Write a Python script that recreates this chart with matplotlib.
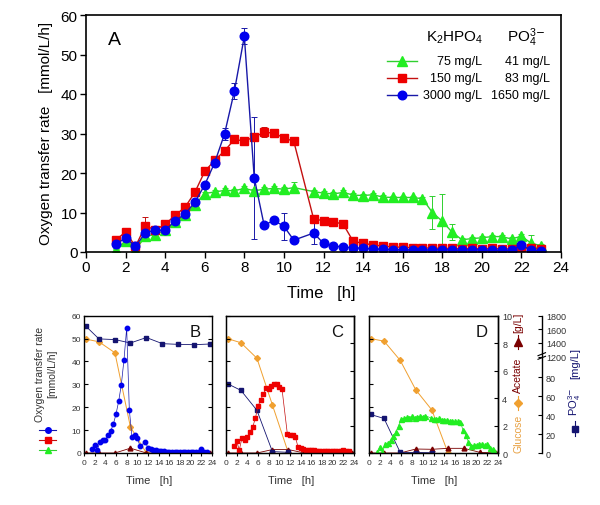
import numpy as np
import matplotlib
matplotlib.use('Agg')
import matplotlib.pyplot as plt
from matplotlib.lines import Line2D

plt.rcParams['font.family'] = ['Liberation Sans', 'DejaVu Sans']
plt.rcParams['mathtext.fontset'] = 'custom'
plt.rcParams['mathtext.rm'] = 'Liberation Sans'
plt.rcParams['mathtext.it'] = 'Liberation Sans:italic'
plt.rcParams['mathtext.bf'] = 'Liberation Sans:bold'

# ---------------- data ----------------
# OTR sampling times [h]
t_otr = [1.5, 2, 2.5, 3, 3.5, 4, 4.5, 5, 5.5, 6, 6.5, 7, 7.5, 8, 8.5, 9, 9.5, 10, 10.5,
         11.5, 12, 12.5, 13, 13.5, 14, 14.5, 15, 15.5, 16, 16.5, 17, 17.5, 18, 18.5,
         19, 19.5, 20, 20.5, 21, 21.5, 22, 22.5, 23]
# OTR [mmol/L/h]
otr_3000 = [1.9, 3.6, 1.4, 4.9, 5.5, 5.5, 7.9, 9.6, 12.6, 17.0, 22.6, 29.9, 40.8, 54.6, 18.8, 6.8, 8.0, 6.5, 3.0,
            4.8, 2.2, 1.6, 1.2, 1.1, 0.9, 0.8, 0.7, 0.6, 0.6, 0.5, 0.5, 0.5, 0.6, 0.5,
            0.4, 0.6, 0.5, 0.4, 0.4, 0.4, 1.8, 0.4, 0.3]
otr_150 = [3.0, 5.1, 1.4, 6.6, 5.6, 7.0, 9.3, 11.3, 15.1, 20.4, 23.2, 25.6, 28.5, 28.1, 29.1, 30.3, 30.1, 28.9, 28.0,
           8.4, 7.9, 7.7, 7.0, 2.7, 2.2, 1.8, 1.5, 1.3, 1.2, 1.1, 1.0, 1.0, 0.9, 0.9,
           0.8, 0.9, 0.8, 0.9, 0.8, 0.8, 1.2, 0.9, 0.7]
otr_75 = [0.5, 2.8, 0.5, 4.0, 4.4, 5.5, 7.5, 9.3, 12.0, 14.8, 15.2, 15.6, 15.5, 16.1, 15.5, 15.9, 16.1, 15.9, 16.3,
          15.3, 14.9, 14.7, 15.1, 14.4, 14.3, 14.5, 13.9, 13.8, 13.8, 13.8, 13.5, 10.0, 7.8, 5.0,
          3.1, 3.4, 3.6, 3.9, 3.9, 3.3, 4.0, 2.2, 1.6]
# error bars (standard deviation)
err_3000 = [0.8, 1.0, 0.5, 0.5, 0.5, 0.5, 0.5, 0.5, 0.5, 0.5, 0.5, 1.5, 2.0, 2.0, 15.5, 0.5, 0.5, 3.5, 0.5,
            2.8, 0.8, 0.3, 0.3, 0.3, 0.3, 0.3, 0.3, 0.3, 0.3, 0.3, 0.3, 0.3, 0.3, 0.3,
            0.3, 0.3, 0.3, 0.3, 0.3, 0.3, 0.8, 0.3, 0.3]
err_150 = [0.8, 1.0, 0.5, 2.2, 0.5, 0.8, 0.5, 0.5, 0.5, 0.5, 0.8, 0.5, 1.0, 0.5, 0.5, 1.3, 0.8, 1.0, 0.5,
           0.8, 1.0, 0.5, 0.5, 0.5, 0.3, 0.3, 0.3, 0.3, 0.3, 0.3, 0.3, 0.3, 0.3, 0.3,
           0.3, 0.3, 0.3, 0.3, 0.3, 0.3, 0.6, 0.3, 0.3]
err_75 = [0.3, 0.5, 0.3, 0.5, 0.5, 0.5, 0.5, 0.5, 0.5, 0.5, 0.5, 0.5, 0.5, 0.5, 0.5, 0.5, 0.5, 0.5, 1.3,
          0.5, 0.5, 0.5, 0.5, 0.5, 0.5, 0.5, 0.5, 0.5, 0.5, 0.5, 0.5, 4.2, 7.0, 2.0,
          0.5, 0.5, 0.5, 0.5, 0.5, 0.5, 0.6, 2.2, 0.5]

# off-line samples [h]
t_smp = [0.3, 2.8, 5.8, 8.7, 11.7, 14.7, 17.7, 20.6, 23.6]
nan = float('nan')
glucose_B = [8.3, 8.1, 7.3, 1.9, 0.0, nan, nan, nan, nan]        # g/L
glucose_C = [8.33, 8.03, 6.9, 3.5, 0.0, nan, nan, nan, nan]
glucose_D = [8.33, 8.15, 6.75, 4.6, 3.13, 0.0, nan, nan, nan]
acetate_B = [0, 0, 0, 0.35, 0, 0, 0, 0, 0]                        # g/L
acetate_C = [0, 0, 0, 0.25, 0.25, 0, 0, 0, 0]
acetate_D = [0, 0, 0, 0.29, 0.27, 0.34, 0.34, 0.05, 0]
po4_B = [1650, 1460, 1450, 1400, 1480, 1390, 1380, 1375, 1385]   # mg/L
po4_C = [73, 66, 45, 1.5, 0.7, nan, nan, nan, nan]
po4_D = [40.6, 36.4, 0.7, 0.5, 0.3, nan, nan, nan, nan]

legend_k2hpo4 = ['75 mg/L', '150 mg/L', '3000 mg/L']
legend_po4 = ['41 mg/L', '83 mg/L', '1650 mg/L']

# ---------------- colours ----------------
blue_m, blue_l = '#0000EE', '#1818A8'
red_m, red_l = '#EE0000', '#C41010'
green_m, green_l = '#22EE22', '#30D030'
orange = '#F0A030'
darkred = '#7A0000'
navy = '#141470'
gray = '#333333'

fig = plt.figure(figsize=(6, 5.06), dpi=100)
W, H = 600.0, 506.0


def fig_rect(l, t, r, b):
    return [l / W, 1 - b / H, (r - l) / W, (b - t) / H]


# ---------------- panel A ----------------
axA = fig.add_axes(fig_rect(86, 16, 561, 253))
for y, e, c_m, c_l, mk, ms in [(otr_75, err_75, green_m, green_l, '^', 6.8),
                                 (otr_150, err_150, red_m, red_l, 's', 5.2),
                                 (otr_3000, err_3000, blue_m, blue_l, 'o', 6.2)]:
    axA.errorbar(t_otr, y, yerr=e, fmt='-', color=c_l, lw=1.0, marker=mk, ms=ms,
                 mfc=c_m, mec=c_m, ecolor=c_l, elinewidth=0.7, capsize=2.5, capthick=0.7)
axA.set_xlim(0, 24)
axA.set_ylim(0, 60)
axA.set_xticks(range(0, 25, 2))
axA.set_yticks(range(0, 61, 10))
axA.tick_params(direction='out', length=4, width=1, labelsize=11, pad=2)
for s in axA.spines.values():
    s.set_linewidth(1.2)
axA.set_xlabel('Time   [h]', fontsize=12, va='center')
axA.xaxis.set_label_coords(0.495, -0.169)
axA.set_ylabel('Oxygen transfer rate   [mmol/L/h]', fontsize=11, va='center')
axA.yaxis.set_label_coords(-0.084, 0.504)
axA.text(0.059, 0.895, 'A', transform=axA.transAxes, fontsize=14, ha='center', va='center')

# legend of panel A
fig.text(455 / W, 1 - 38 / H, 'K$_2$HPO$_4$', fontsize=11, ha='center', va='center')
fig.text(526 / W, 1 - 38 / H, 'PO$_4^{3\\mathsf{-}}$', fontsize=11, ha='center', va='center')
for yy, c_m, c_l, mk, ms, l1, l2 in [(62, green_m, green_l, '^', 6.8, legend_k2hpo4[0], legend_po4[0]),
                                       (79, red_m, red_l, 's', 5.2, legend_k2hpo4[1], legend_po4[1]),
                                       (96, blue_m, blue_l, 'o', 6.2, legend_k2hpo4[2], legend_po4[2])]:
    fig.add_artist(Line2D([387 / W, 402 / W, 417 / W], [1 - yy / H] * 3, transform=fig.transFigure,
                          color=c_l, lw=1.0, marker=mk, markevery=[1], ms=ms, mfc=c_m, mec=c_m))
    fig.text(482 / W, 1 - yy / H, l1, fontsize=9, ha='right', va='center')
    fig.text(550 / W, 1 - yy / H, l2, fontsize=9, ha='right', va='center')


# ---------------- PO4 broken scale ----------------
def po4_fwd(v):
    v = np.asarray(v, dtype=float)
    return np.where(v <= 100, v * 0.95,
                    np.where(v <= 1200, 95 + (v - 100) * (1.5 / 1100),
                             96.5 + (v - 1200) * (41.0 / 600)))


def po4_inv(y):
    y = np.asarray(y, dtype=float)
    return np.where(y <= 95, y / 0.95,
                    np.where(y <= 96.5, 100 + (y - 95) * (1100 / 1.5),
                             1200 + (y - 96.5) * (600 / 41.0)))


def small_panel(rect, letter, otr, c_m, c_l, mk, ms, glu, ace, po4, mode):
    ax = fig.add_axes(rect)
    ax_g = ax.twinx()
    ax_p = ax.twinx()
    # PO4
    ax_p.set_yscale('function', functions=(po4_fwd, po4_inv))
    ax_p.plot(t_smp, po4, '-', color=navy, lw=0.6, marker='s', ms=2.8, mfc=navy, mec=navy)
    ax_p.set_ylim(0, 1800)
    # glucose & acetate
    ax_g.plot(t_smp, glu, '-', color=orange, lw=0.7, marker='D', ms=3, mfc=orange, mec=orange)
    ax_g.plot(t_smp, ace, '-', color=darkred, lw=0.6, marker='^', ms=3.5, mfc=darkred, mec=darkred)
    ax_g.set_ylim(0, 10)
    # OTR
    ax.plot(t_otr, otr, '-', color=c_l, lw=0.5, marker=mk, ms=ms, mfc=c_m, mec=c_m)
    ax.set_zorder(ax_p.get_zorder() + 1)
    ax.patch.set_visible(False)
    ax.set_xlim(0, 24)
    ax.set_ylim(0, 60)
    ax.set_xticks(range(0, 25, 2))
    ax.set_yticks(range(0, 61, 10))
    ax.tick_params(axis='x', direction='out', length=2.5, width=0.8, labelsize=6, pad=2, colors='black',
                   labelcolor=gray)
    ax.tick_params(axis='y', direction='in', length=3, width=0.8, labelsize=6, pad=2, labelcolor=gray)
    for s in ax.spines.values():
        s.set_linewidth(1.0)
    ax.set_xlabel('Time   [h]', fontsize=8, color=gray, va='center')
    ax.xaxis.set_label_coords(0.505, -0.194)
    ax.text(0.87, 0.885, letter, transform=ax.transAxes, fontsize=12, ha='center', va='center', color='#111111')
    ax_g.set_yticks(range(0, 11, 2))
    ax_p.set_yticks([0, 20, 40, 60, 80, 1200, 1400, 1600, 1800])
    ax_p.set_yticklabels(['0', '20', '40', '60', '80', '1200', '1400', '1600', '1800'])
    if mode == 'B':
        ax.tick_params(axis='y', right=True)
        ax_g.set_axis_off()
        ax_p.set_axis_off()
        ax.set_ylabel('Oxygen transfer rate\n[mmol/L/h]', fontsize=7.5, color=gray, va='center',
                      linespacing=1.35)
        ax.yaxis.set_label_coords(-0.297, 0.583)
    else:
        ax.tick_params(axis='y', labelleft=False)
        ax_g.tick_params(axis='y', direction='in', length=3, width=0.8, labelsize=6.5, pad=3,
                         labelcolor=gray)
        ax_p.set_axis_off()
        if mode == 'C':
            ax_g.tick_params(axis='y', labelright=False)
        else:
            ax_p.set_axis_on()
            for k in ['left', 'top', 'bottom']:
                ax_p.spines[k].set_visible(False)
            ax_p.spines['right'].set_position(('outward', 31.5))
            ax_p.spines['right'].set_linewidth(1.0)
            ax_p.tick_params(axis='y', direction='in', length=3, width=0.8, labelsize=6.5, pad=3,
                             labelcolor=gray, which='both')
            ax_p.minorticks_off()
    for a in (ax_g, ax_p):
        a.spines['right'].set_linewidth(1.0)
    return ax, ax_g, ax_p


axB = small_panel(fig_rect(84, 316.7, 212, 454), 'B', otr_3000, blue_m, blue_l, 'o', 3.2,
                  glucose_B, acetate_B, po4_B, 'B')
axC = small_panel(fig_rect(226, 316.7, 354, 454), 'C', otr_150, red_m, red_l, 's', 3.0,
                  glucose_C, acetate_C, po4_C, 'C')
axD = small_panel(fig_rect(369, 316.7, 498, 454), 'D', otr_75, green_m, green_l, '^', 3.6,
                  glucose_D, acetate_D, po4_D, 'D')

# axis break marks on PO4 axis
for dy in (-1.8, 1.8):
    fig.add_artist(Line2D([538 / W, 545.5 / W], [1 - (358.5 + dy) / H, 1 - (355.5 + dy) / H],
                          transform=fig.transFigure, color='black', lw=0.8))


# ---------------- key symbols ----------------
def vkey(x, y0, y1, color, mk, ms):
    fig.add_artist(Line2D([x / W] * 3, [1 - y0 / H, 1 - (y0 + y1) / 2 / H, 1 - y1 / H],
                          transform=fig.transFigure, color=color, lw=0.8, marker=mk, markevery=[1],
                          ms=ms, mfc=color, mec=color))


def hkey(y, color_l, color_m, mk, ms):
    fig.add_artist(Line2D([39 / W, 47.5 / W, 56 / W], [1 - y / H] * 3, transform=fig.transFigure,
                          color=color_l, lw=0.8, marker=mk, markevery=[1], ms=ms, mfc=color_m, mec=color_m))


hkey(431, blue_l, blue_m, 'o', 4)
hkey(441, red_l, red_m, 's', 3.8)
hkey(451, green_l, green_m, '^', 4.5)

fig.text(518 / W, 1 - 433.5 / H, 'Glucose', rotation=90, fontsize=7.5, color='#E8A040', ha='center', va='center')
vkey(518, 397, 411, orange, 'D', 4.5)
fig.text(518 / W, 1 - 375 / H, 'Acetate', rotation=90, fontsize=7.5, color=darkred, ha='center', va='center')
vkey(518, 336, 350, darkred, '^', 5.5)
fig.text(518 / W, 1 - 323 / H, '[g/L]', rotation=90, fontsize=7.5, color=darkred, ha='center', va='center')

fig.text(575 / W, 1 - 402 / H, 'PO$_4^{3\\mathsf{-}}$', rotation=90, fontsize=8, color=navy,
         ha='center', va='center')
fig.text(575 / W, 1 - 364 / H, '[mg/L]', rotation=90, fontsize=8, color=navy, ha='center', va='center')
vkey(575, 422, 437, navy, 's', 4.5)

fig.savefig('out.png', dpi=100)
